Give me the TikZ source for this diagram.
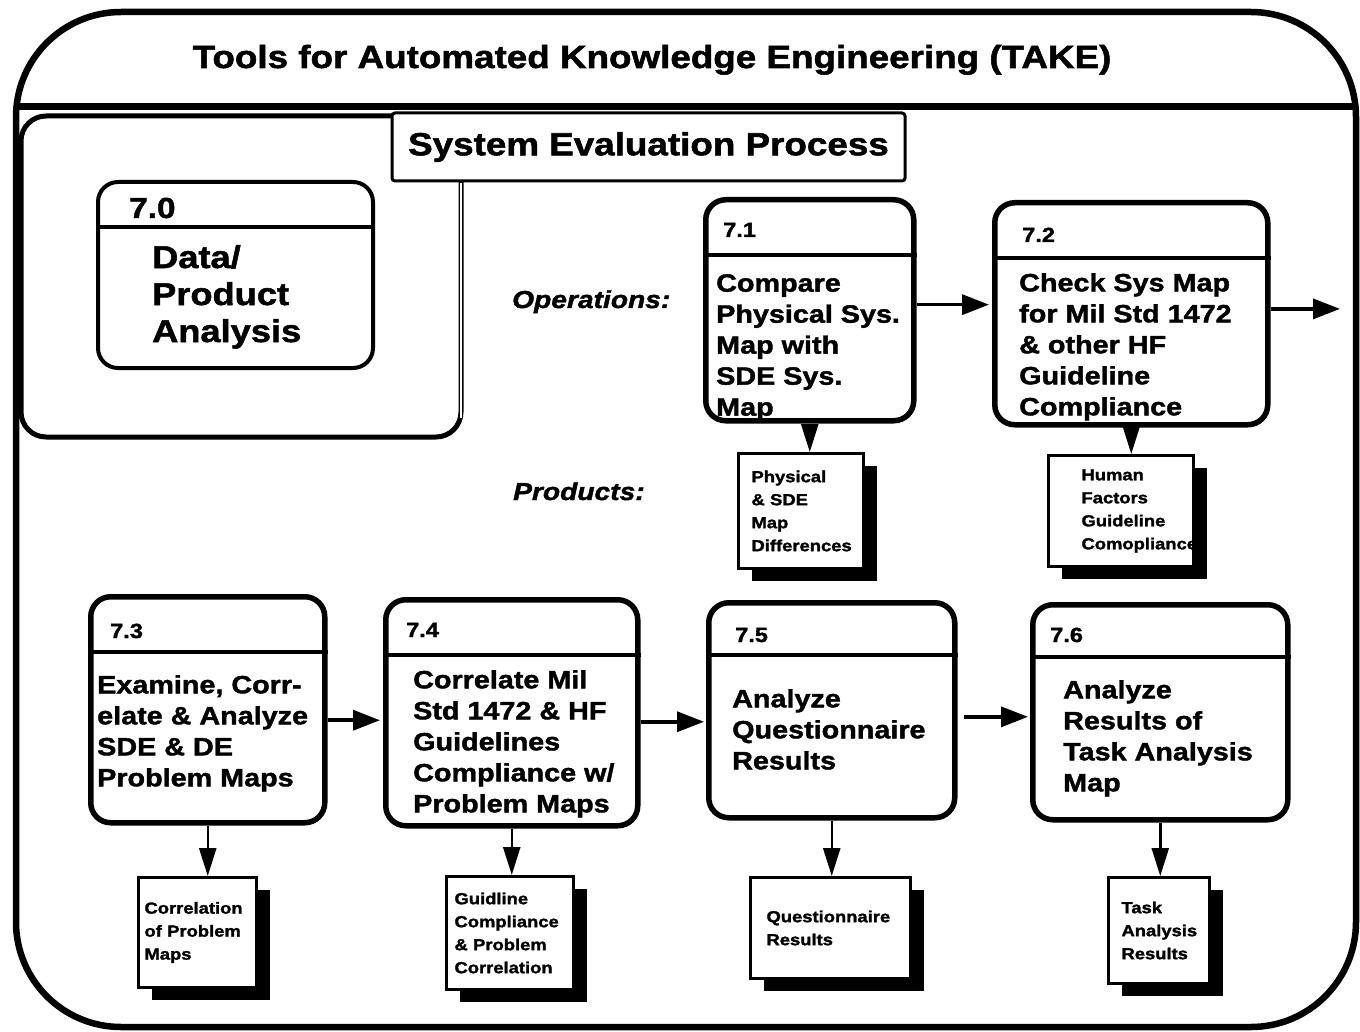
\documentclass[tikz,border=0pt]{standalone}
\usepackage{fontspec}
\setmainfont[FakeStretch=1.15,BoldFeatures={FakeBold=1.6},BoldItalicFeatures={FakeBold=1.6}]{Liberation Sans}
\usetikzlibrary{arrows.meta,shadows}

\begin{document}
\begin{tikzpicture}[x=1pt,y=-1pt,
    flow/.style={draw,line width=3.5pt,-{Triangle[length=27pt,width=20pt]}},
    down/.style={draw,line width=2.5pt,-{Triangle[length=28pt,width=17pt]}}]
  \useasboundingbox (0,0) rectangle (1360,1032);
  \draw[line width=6.5pt,rounded corners=105pt] (16,12) rectangle (1356,1027);
  \draw[line width=7pt] (16,107) -- (1356,107);
  \draw[line width=5pt,rounded corners=25pt] (21,116) rectangle (461,437);
  \draw[white,line width=1.4pt] (461,183) -- (461,418);
  \node[anchor=base,font=\fontsize{32}{36}\selectfont\bfseries] (title) at (652,68)
       {Tools for Automated Knowledge Engineering (TAKE)};
  \node[draw,fill=white,line width=3pt,rounded corners=3pt,minimum width=513pt,minimum height=68pt,
       font=\fontsize{32}{36}\selectfont\bfseries] (sep) at (648.5,147) {System Evaluation Process};

  \begin{scope}[every node/.style={draw,line width=5.5pt,rounded corners=20pt,inner sep=0pt,below right}]
  \node[minimum width=275pt,minimum height=186pt,line width=4pt] (p70) at (96,180) {};
  \node[minimum width=208pt,minimum height=221pt] (p71) at (703,197) {};
  \node[minimum width=273pt,minimum height=222pt] (p72) at (992,200) {};
  \node[minimum width=234pt,minimum height=226pt] (p73) at (88,594) {};
  \node[minimum width=252pt,minimum height=226pt] (p74) at (383,597) {};
  \node[minimum width=246pt,minimum height=215pt] (p75) at (706,600) {};
  \node[minimum width=255pt,minimum height=215pt] (p76) at (1030,602) {};
  \end{scope}
  \draw[line width=3.5pt] (p70.west |- 0,227) -- (p70.east |- 0,227);
  \draw[line width=4.5pt] (p71.west |- 0,255) -- (p71.east |- 0,255);
  \draw[line width=4.5pt] (p72.west |- 0,258) -- (p72.east |- 0,258);
  \draw[line width=4.5pt] (p73.west |- 0,652) -- (p73.east |- 0,652);
  \draw[line width=4.5pt] (p74.west |- 0,655) -- (p74.east |- 0,655);
  \draw[line width=4.5pt] (p75.west |- 0,655) -- (p75.east |- 0,655);
  \draw[line width=4.5pt] (p76.west |- 0,657) -- (p76.east |- 0,657);

  \begin{scope}[every node/.style={anchor=base west,inner sep=0pt,font=\fontsize{20.5}{22}\selectfont\bfseries}]
  \node[font=\fontsize{29}{30}\selectfont\bfseries] (n70) at (129,218) {7.0};
  \node (n71) at (723,237) {7.1};
  \node (n72) at (1022,242) {7.2};
  \node (n73) at (110,638) {7.3};
  \node (n74) at (406,637) {7.4};
  \node (n75) at (735,642) {7.5};
  \node (n76) at (1050,642) {7.6};
  \end{scope}

  \begin{scope}[every node/.style={inner sep=0pt,font=\fontsize{25}{31}\selectfont\bfseries,align=left,below right}]
  \node[font=\fontsize{31.5}{37}\selectfont\bfseries] (t70) at (152,245) {Data/\\Product\\Analysis};
  \node (t71) at (716,274) {Compare\\Physical Sys.\\Map with\\SDE Sys.\\Map};
  \node (t72) at (1019,273) {Check Sys Map\\for Mil Std 1472\\\& other HF\\Guideline\\Compliance};
  \node (t73) at (97,675) {Examine, Corr-\\elate \& Analyze\\SDE \& DE\\Problem Maps};
  \node (t74) at (413,670) {Correlate Mil\\Std 1472 \& HF\\Guidelines\\Compliance w/\\Problem Maps};
  \node (t75) at (732,689) {Analyze\\Questionnaire\\Results};
  \node (t76) at (1063,680) {Analyze\\Results of\\Task Analysis\\Map};
  \end{scope}

  \begin{scope}[every node/.style={anchor=base west,inner sep=0pt,font=\fontsize{24.5}{26}\selectfont\bfseries\itshape}]
  \node (ops) at (512,308) {Operations:};
  \node (prods) at (513,500) {Products:};
  \end{scope}

  \begin{scope}[every node/.style={draw,fill=white,line width=3pt,inner ysep=0pt,align=left,below right,
      font=\fontsize{16}{23}\selectfont\bfseries,
      drop shadow={shadow xshift=13pt,shadow yshift=-12pt,fill=black,opacity=1}}]
  \node[minimum height=115pt,text width=99pt,inner xsep=13pt] (d71) at (737,452)
       {Physical\\\& SDE\\Map\\Differences};
  \node[minimum height=111pt,text width=79pt,inner xsep=33pt] (d72) at (1047,454)
       {Human\\Factors\\Guideline\\Comopliance};
  \node[minimum height=110pt,text width=106pt,inner xsep=6pt] (d73) at (137,876)
       {Correlation\\of Problem\\Maps};
  \node[minimum height=113pt,text width=111pt,inner xsep=8pt] (d74) at (445,875)
       {Guidline\\Compliance\\\& Problem\\Correlation};
  \node[minimum height=101pt,text width=128pt,inner xsep=16pt] (d75) at (749,876)
       {Questionnaire\\Results};
  \node[minimum height=106pt,text width=75pt,inner xsep=13pt] (d76) at (1107,876)
       {Task\\Analysis\\Results};
  \end{scope}

  \coordinate (out72) at (1340,305);
  \draw[flow,shorten >=3pt] (p71.3) -- (p71.3 -| p72.west);
  \draw[flow] (p72.2.5) -- (p72.2.5 -| out72);
  \draw[flow,shorten >=3pt] (p73.-5) -- (p73.-5 -| p74.west);
  \draw[flow,shorten >=2pt] (p74.-4.5) -- (p74.-4.5 -| p75.west);
  \draw[flow,shorten <=6pt,shorten >=2pt] (p75.-3.5) -- (p75.-3.5 -| p76.west);
  \draw[down] (p71.south) -- (p71.south |- d71.north);
  \draw[down] (p72.south) -- (p72.south |- d72.north);
  \draw[down] (p73.south) -- (p73.south |- d73.north);
  \draw[down] (p74.south) -- (p74.south |- d74.north);
  \draw[down] (p75.south) -- (p75.south |- d75.north);
  \draw[down] (p76.south) -- (p76.south |- d76.north);
\end{tikzpicture}
\end{document}
